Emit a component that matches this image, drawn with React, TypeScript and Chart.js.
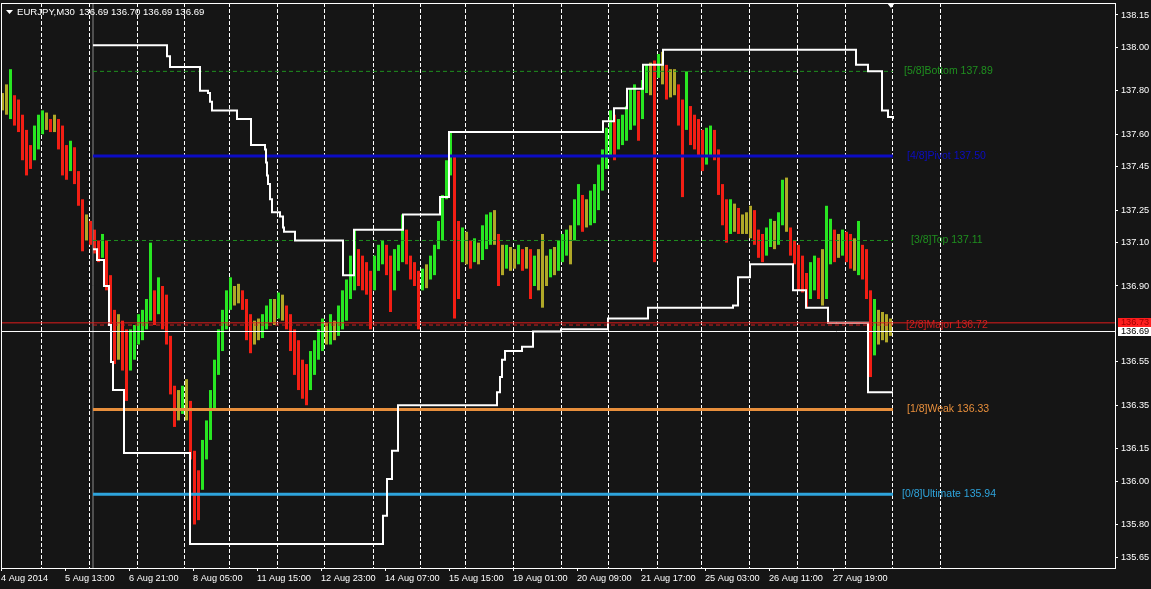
import React, { useEffect, useRef } from "react";
import { Chart, registerables } from "chart.js";

Chart.register(...registerables);

// ---------------- data ----------------
// one drawn candle = 4 M30 bars; x units are M30 bars
const candleSpan = 4;
const candleHighs = [
  137.79, 137.83, 137.9, 137.78, 137.76, 137.69, 137.62, 137.55, 137.64, 137.69,
  137.71, 137.7, 137.67, 137.69, 137.67, 137.64, 137.55, 137.57, 137.54, 137.43,
  137.3, 137.23, 137.2, 137.16, 137.11, 137.14, 137.11, 136.95, 136.79, 136.77,
  136.74, 136.7, 136.7, 136.72, 136.77, 136.79, 136.84, 137.1, 136.88, 136.94,
  136.9, 136.86, 136.67, 136.44, 136.42, 136.44, 136.47, 136.37, 136.14, 136.05,
  136.19, 136.28, 136.42, 136.56, 136.7, 136.79, 136.88, 136.94, 136.9, 136.91,
  136.88, 136.84, 136.77, 136.74, 136.75, 136.77, 136.81, 136.84, 136.84, 136.87,
  136.86, 136.81, 136.77, 136.7, 136.65, 136.56, 136.54, 136.6, 136.65, 136.7,
  136.75, 136.73, 136.77, 136.74, 136.81, 136.88, 136.93, 137.04, 137.16, 137.07,
  137.04, 137.01, 136.97, 137.04, 137.09, 137.11, 137.09, 137.04, 137.07, 137.09,
  137.23, 137.16, 137.04, 137.01, 136.97, 136.98, 137.0, 137.04, 137.09, 137.2,
  137.32, 137.48, 137.61, 137.5, 137.2, 137.17, 137.15, 137.11, 137.12, 137.1,
  137.18, 137.23, 137.24, 137.25, 137.14, 137.09, 137.09, 137.08, 137.07, 137.09,
  137.07, 137.08, 137.07, 137.04, 137.07, 137.14, 137.04, 137.07, 137.08, 137.11,
  137.14, 137.16, 137.18, 137.3, 137.37, 137.32, 137.3, 137.34, 137.37, 137.46,
  137.53, 137.63, 137.71, 137.69, 137.67, 137.69, 137.73, 137.81, 137.83, 137.8,
  137.85, 137.92, 137.93, 137.94, 137.97, 137.98, 137.92, 137.9, 137.9, 137.83,
  137.76, 137.89, 137.73, 137.69, 137.67, 137.62, 137.63, 137.64, 137.62, 137.53,
  137.37, 137.3, 137.3, 137.28, 137.26, 137.23, 137.24, 137.27, 137.25, 137.16,
  137.14, 137.17, 137.21, 137.2, 137.24, 137.39, 137.4, 137.17, 137.11, 137.09,
  137.04, 136.96, 137.01, 137.04, 137.03, 137.07, 137.27, 137.21, 137.16, 137.14,
  137.16, 137.15, 137.14, 137.12, 137.2, 137.09, 137.07, 136.88, 136.84, 136.79,
  136.78, 136.77, 136.75,
];
const candleLows = [
  137.71, 137.69, 137.67, 137.64, 137.61, 137.48, 137.41, 137.44, 137.48, 137.53,
  137.6, 137.62, 137.61, 137.61, 137.53, 137.41, 137.39, 137.43, 137.37, 137.27,
  137.06, 137.11, 137.09, 137.05, 137.01, 137.03, 136.88, 136.72, 136.54, 136.56,
  136.51, 136.37, 136.51, 136.56, 136.63, 136.65, 136.7, 136.74, 136.72, 136.77,
  136.7, 136.63, 136.4, 136.25, 136.28, 136.31, 136.28, 136.1, 135.8, 135.82,
  135.96, 136.1, 136.19, 136.33, 136.49, 136.6, 136.7, 136.79, 136.81, 136.82,
  136.79, 136.65, 136.59, 136.63, 136.65, 136.66, 136.7, 136.73, 136.72, 136.75,
  136.74, 136.7, 136.6, 136.49, 136.42, 136.38, 136.35, 136.42, 136.49, 136.56,
  136.6, 136.63, 136.63, 136.65, 136.67, 136.7, 136.74, 136.84, 136.88, 136.9,
  136.88, 136.86, 136.7, 136.88, 136.97, 137.0, 136.95, 136.78, 136.88, 136.97,
  137.01, 137.0, 136.93, 136.9, 136.7, 136.88, 136.89, 136.93, 136.95, 137.07,
  137.11, 137.3, 137.41, 136.75, 136.84, 137.01, 137.0, 136.98, 137.01, 137.0,
  137.02, 137.07, 137.09, 137.09, 136.9, 136.95, 136.98, 136.97, 136.98, 137.0,
  136.97, 136.98, 136.84, 136.9, 136.88, 136.8, 136.9, 136.94, 136.95, 136.97,
  137.01, 137.04, 137.0, 137.11, 137.18, 137.15, 137.17, 137.18, 137.19, 137.25,
  137.34, 137.44, 137.5, 137.48, 137.53, 137.55, 137.57, 137.62, 137.64, 137.57,
  137.67, 137.79, 137.78, 137.01, 137.86, 137.83, 137.76, 137.77, 137.78, 137.64,
  137.31, 137.62, 137.55, 137.53, 137.5, 137.43, 137.46, 137.5, 137.48, 137.32,
  137.18, 137.1, 137.14, 137.15, 137.14, 137.14, 137.14, 137.12, 137.09, 137.03,
  137.01, 137.04, 137.08, 137.07, 137.09, 137.18, 137.15, 137.04, 137.0, 136.88,
  136.87, 136.8, 136.84, 136.88, 136.84, 136.81, 136.84, 137.0, 137.01, 137.03,
  137.04, 137.01, 136.98, 136.97, 136.95, 136.93, 136.84, 136.48, 136.58, 136.63,
  136.65, 136.64, 136.67,
];

// channel step lines (x in M30 bars, price)
const upperStepX = [92, 166, 169, 199, 207, 209, 211, 236, 250, 264, 265, 266, 267, 269, 271, 279, 282, 283, 294, 342, 353, 402, 439, 448, 602, 613, 626, 642, 662, 855, 867, 881, 887, 892];
const upperStepY = [138.01, 137.96, 137.91, 137.8, 137.79, 137.75, 137.71, 137.67, 137.55, 137.53, 137.47, 137.41, 137.37, 137.3, 137.24, 137.22, 137.17, 137.15, 137.11, 136.95, 137.16, 137.23, 137.31, 137.61, 137.66, 137.72, 137.81, 137.92, 137.99, 137.92, 137.89, 137.71, 137.68, 137.67];
const lowerStepX = [92, 96, 103, 108, 110, 112, 123, 189, 382, 386, 391, 397, 496, 499, 501, 504, 521, 532, 560, 607, 647, 732, 737, 749, 792, 805, 827, 867, 892];
const lowerStepY = [137.07, 137.02, 136.9, 136.72, 136.55, 136.42, 136.13, 135.71, 135.84, 136.01, 136.14, 136.35, 136.41, 136.48, 136.56, 136.6, 136.62, 136.69, 136.7, 136.75, 136.8, 136.81, 136.94, 137.0, 136.88, 136.8, 136.73, 136.41, 136.41];

// Murrey math levels
const murreyLevels = [137.89, 137.5, 137.11, 136.72, 136.33, 135.94];
const murreyNames = ["[5/8]Bottom", "[4/8]Pivot", "[3/8]Top", "[2/8]Major", "[1/8]Weak", "[0/8]Ultimate"];
const murreyColors = ["#1f901f", "#0c0cc4", "#1f901f", "#cf1f1f", "#e88f3c", "#2ea4dc"];
const murreyWidths = [1, 3, 1, 1, 3, 3];
const murreyDashed = [true, false, true, true, false, false];
const murreyFrom = 92;
const murreyTo = 892;
const murreyLabelX = [903, 906, 910, 905, 906, 901];

// axes
const xTickBars = [0, 64, 128, 192, 256, 320, 384, 448, 512, 576, 640, 704, 768, 832];
const xTickLabels = ["4 Aug 2014", "5 Aug 13:00", "6 Aug 21:00", "8 Aug 05:00", "11 Aug 15:00", "12 Aug 23:00", "14 Aug 07:00", "15 Aug 15:00", "19 Aug 01:00", "20 Aug 09:00", "21 Aug 17:00", "25 Aug 03:00", "26 Aug 11:00", "27 Aug 19:00"];
const yTickValues = [138.15, 138.0, 137.8, 137.6, 137.45, 137.25, 137.1, 136.9, 136.55, 136.35, 136.15, 136.0, 135.8, 135.65];
const separatorBars = [40, 88, 136, 183, 228, 276, 323, 372, 419, 464, 512, 560, 607, 656, 700, 748, 796, 844, 891, 939];
const bidPrice = 136.69;
const askPrice = 136.73;
const headerSymbol = "EURJPY,M30";
const headerOHLC = ["136.69", "136.70", "136.69", "136.69"];
const startLineBar = 92;
const shiftMarkerBar = 890;
const xMin = 0;
const xMax = 1114;
const yMin = 135.5993;
const yMax = 138.2053;

// ---------------- styles ----------------
const BG = "#151515";
const UP = "#28e622";
const DOWN = "#f21e14";
const FLAT = "#b0a828";
const FONT = '"Liberation Sans", Arial, sans-serif';

const decor = {
  id: "decor",
  beforeDraw(chart: any) {
    const { ctx, width, height } = chart;
    ctx.save();
    ctx.fillStyle = BG;
    ctx.fillRect(0, 0, width, height);
    ctx.restore();
  },
  afterDraw(chart: any) {
    const { ctx, chartArea: a } = chart;
    const xs = chart.scales.x;
    const ys = chart.scales.y;
    ctx.save();
    ctx.strokeStyle = "#ffffff";
    ctx.lineWidth = 1;
    ctx.strokeRect(a.left + 0.5, a.top + 0.5, a.right - a.left, a.bottom - a.top);

    ctx.textAlign = "left";
    ctx.textBaseline = "middle";
    ctx.font = "10.5px " + FONT;
    murreyLevels.forEach((v, i) => {
      ctx.fillStyle = murreyColors[i];
      ctx.fillText(murreyNames[i] + " " + v.toFixed(2), xs.getPixelForValue(murreyLabelX[i]), ys.getPixelForValue(v));
    });

    ctx.font = "9.2px " + FONT;
    const boxes: [number, string, string][] = [
      [askPrice, "#ff1e1e", "#a00000"],
      [bidPrice, "#ffffff", "#000000"],
    ];
    boxes.forEach(([p, bg, fg]) => {
      const py = ys.getPixelForValue(p);
      ctx.fillStyle = bg;
      ctx.fillRect(a.right + 3, Math.round(py) - 5, chart.width - a.right - 3, 9);
      ctx.fillStyle = fg;
      ctx.fillText(p.toFixed(2), a.right + 6, py);
    });

    // header
    ctx.fillStyle = "#ffffff";
    ctx.beginPath();
    ctx.moveTo(6, 10);
    ctx.lineTo(13, 10);
    ctx.lineTo(9.5, 14);
    ctx.closePath();
    ctx.fill();
    ctx.font = "9.6px " + FONT;
    ctx.fillText(headerSymbol, 17, 12);
    ctx.fillText(headerOHLC.join(" "), 79, 12);

    // chart shift marker
    const mx = xs.getPixelForValue(shiftMarkerBar);
    ctx.beginPath();
    ctx.moveTo(mx - 4, 3);
    ctx.lineTo(mx + 4, 3);
    ctx.lineTo(mx, 8);
    ctx.closePath();
    ctx.fill();
    ctx.restore();
  },
};

const zeroPad = (s: any) => {
  s.paddingLeft = 0;
  s.paddingRight = 0;
  s.paddingTop = 0;
  s.paddingBottom = 0;
};

export default function App() {
  const ref = useRef<HTMLCanvasElement>(null);

  useEffect(() => {
    document.body.style.margin = "0";
    document.body.style.background = BG;
    const canvas = ref.current;
    if (!canvas) return;

    const mids = candleHighs.map((h, i) => (h + candleLows[i]) / 2);
    const bodyColors = mids.map((m, i) => {
      const d = i === 0 ? 0 : m - mids[i - 1];
      return d > 0.015 ? UP : d < -0.015 ? DOWN : FLAT;
    });
    const ranges = candleHighs.map((h, i) => ({ x: i * candleSpan + 1.5, y: [candleLows[i], h] }));

    const line = (pts: { x: number; y: number }[], color: string, width: number, order: number, extra: any = {}) => ({
      type: "line",
      data: pts,
      borderColor: color,
      borderWidth: width,
      pointRadius: 0,
      fill: false,
      tension: 0,
      order,
      xAxisID: "x",
      yAxisID: "y",
      ...extra,
    });

    const datasets: any[] = [
      {
        type: "bar",
        data: ranges,
        backgroundColor: (c: any) => bodyColors[c.dataIndex] || FLAT,
        grouped: false,
        categoryPercentage: 0.75,
        barPercentage: 1,
        borderWidth: 0,
        inflateAmount: 0,
        order: 20,
        xAxisID: "x",
        yAxisID: "y",
      },
      line([{ x: startLineBar, y: yMin }, { x: startLineBar, y: yMax }], "#8a8a8a", 1, 12),
      ...murreyLevels.map((v, i) =>
        line([{ x: murreyFrom, y: v }, { x: murreyTo, y: v }], murreyColors[i], murreyWidths[i], 8, murreyDashed[i] ? { borderDash: [4, 3] } : {})
      ),
      line(upperStepX.map((x, i) => ({ x, y: upperStepY[i] })), "#ffffff", 2, 5, { stepped: true, borderCapStyle: "butt", borderJoinStyle: "miter" }),
      line(lowerStepX.map((x, i) => ({ x, y: lowerStepY[i] })), "#ffffff", 2, 5, { stepped: true, borderCapStyle: "butt", borderJoinStyle: "miter" }),
      line([{ x: xMin, y: askPrice }, { x: xMax, y: askPrice }], "#e01c1c", 1, 4),
      line([{ x: xMin, y: bidPrice }, { x: xMax, y: bidPrice }], "#ffffff", 1, 4),
    ];

    const tickFont = { family: FONT, size: 9.2 };

    const chart = new Chart(canvas, {
      type: "bar",
      data: { datasets },
      options: {
        responsive: false,
        animation: false,
        devicePixelRatio: 1,
        events: [],
        layout: { padding: { left: 1, top: 3, right: 0, bottom: 0 } },
        plugins: { legend: { display: false }, tooltip: { enabled: false }, title: { display: false } },
        scales: {
          x: {
            type: "linear",
            position: "bottom",
            min: xMin,
            max: xMax,
            offset: false,
            afterBuildTicks: (s: any) => {
              s.ticks = xTickBars.map((v) => ({ value: v }));
            },
            afterFit: (s: any) => {
              s.height = 21;
              zeroPad(s);
            },
            ticks: {
              autoSkip: false,
              maxRotation: 0,
              minRotation: 0,
              align: "start",
              padding: 2,
              color: "#ffffff",
              font: tickFont,
              callback: (_v: any, i: number) => xTickLabels[i],
            },
            grid: { display: true, drawOnChartArea: false, drawTicks: true, tickLength: 3, tickColor: "#ffffff", offset: false },
            border: { display: true, color: "#ffffff" },
          },
          sep: {
            type: "linear",
            axis: "x",
            position: "top",
            min: xMin,
            max: xMax,
            offset: false,
            afterBuildTicks: (s: any) => {
              s.ticks = separatorBars.map((v) => ({ value: v }));
            },
            afterFit: (s: any) => {
              s.height = 0;
              zeroPad(s);
            },
            ticks: { display: false },
            grid: { display: true, drawOnChartArea: true, drawTicks: false, color: "#ffffff", lineWidth: 1, offset: false },
            border: { display: false, dash: [4, 2] },
          },
          y: {
            type: "linear",
            position: "right",
            min: yMin,
            max: yMax,
            beginAtZero: false,
            stacked: false,
            afterBuildTicks: (s: any) => {
              s.ticks = yTickValues.map((v) => ({ value: v }));
            },
            afterFit: (s: any) => {
              s.width = 36;
              zeroPad(s);
            },
            ticks: {
              autoSkip: false,
              color: "#ffffff",
              padding: 3,
              font: tickFont,
              callback: (v: any) => Number(v).toFixed(2),
            },
            grid: { drawOnChartArea: false, drawTicks: true, tickLength: 3, tickColor: "#ffffff" },
            border: { display: true, color: "#ffffff" },
          },
        },
      } as any,
      plugins: [decor],
    });

    return () => chart.destroy();
  }, []);

  return <canvas ref={ref} width={1151} height={589} style={{ display: "block", width: 1151, height: 589 }} />;
}
